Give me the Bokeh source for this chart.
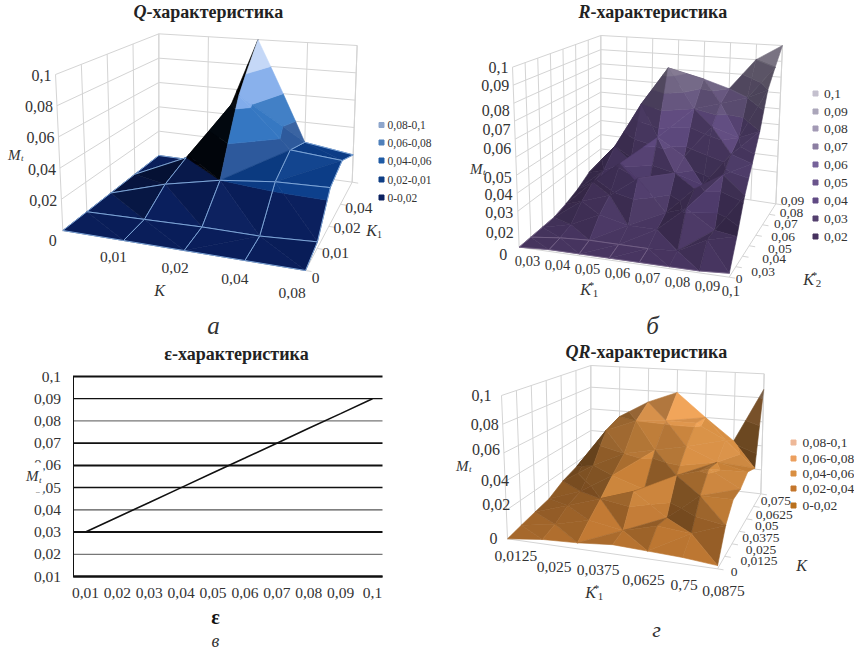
import numpy as np
from bokeh.plotting import figure
from bokeh.layouts import column, row
from bokeh.models import Range1d, FixedTicker
from bokeh.core.properties import value
from bokeh.embed import file_html
from bokeh.resources import INLINE

# ---------- data ----------
Q_K = ["0", "0,01", "0,02", "0,04", "0,08"]
Q_K1 = ["0", "0,01", "0,02", "0,04"]
Q_Z_TICKS = [0, 0.02, 0.04, 0.06, 0.08, 0.1]
Q_Z_LABELS = ["0", "0,02", "0,04", "0,06", "0,08", "0,1"]
Q_M = [  # rows: K1 index (front to back); columns: K index
    [0, 0, 0, 0, 0],
    [0, 0.001, 0.002, 0.002, 0.004],
    [0, 0.012, 0.020, 0.024, 0.025],
    [0, 0.018, 0.068, 0.033, 0.030],
    [0, 0.000, 0.100, 0.025, 0.020],
]
Q_LEGEND = ["0,08-0,1", "0,06-0,08", "0,04-0,06", "0,02-0,01", "0-0,02"]

R_K1 = ["0,03", "0,04", "0,05", "0,06", "0,07", "0,08", "0,09", "0,1"]
R_K2 = ["0", "0,03", "0,04", "0,05", "0,06", "0,07", "0,08", "0,09"]
R_Z_TICKS = [0, 0.02, 0.03, 0.04, 0.05, 0.06, 0.07, 0.08, 0.09, 0.1]
R_Z_LABELS = ["0", "0,02", "0,03", "0,04", "0,05", "0,06", "0,07", "0,08", "0,09", "0,1"]
R_M = [
    [0, .001, .001, .001, .001, .001, .001, .002],
    [0, .002, .003, .003, .003, .004, .012, .016],
    [0, .004, .012, .008, .008, .022, .012, .033],
    [0, .012, .018, .030, .012, .028, .038, .046],
    [.002, .018, .032, .015, .030, .025, .045, .060],
    [.005, .020, .028, .045, .035, .055, .050, .080],
    [.010, .030, .060, .085, .060, .065, .070, .090],
    [.012, .030, .050, .070, .075, .070, .090, .100],
]
R_LEGEND = ["0,1", "0,09", "0,08", "0,07", "0,06", "0,05", "0,04", "0,03", "0,02"]

E_X = [0.01, 0.02, 0.03, 0.04, 0.05, 0.06, 0.07, 0.08, 0.09, 0.1]
E_Y = [0.03, 0.0367, 0.0433, 0.05, 0.0567, 0.0633, 0.07, 0.0767, 0.0833, 0.09]
E_X_LABELS = ["0,01", "0,02", "0,03", "0,04", "0,05", "0,06", "0,07", "0,08", "0,09", "0,1"]
E_Y_TICKS = [0.01, 0.02, 0.03, 0.04, 0.05, 0.06, 0.07, 0.08, 0.09, 0.1]
E_Y_LABELS = ["0,01", "0,02", "0,03", "0,04", "0,05", "0,06", "0,07", "0,08", "0,09", "0,1"]

QR_K1 = ["0,0125", "0,025", "0,0375", "", "0,0625", "0,75", "0,0875"]
QR_K = ["0", "0,0125", "0,025", "0,0375", "0,05", "0,0625", "0,075"]
QR_Z_TICKS = [0, 0.02, 0.04, 0.06, 0.08, 0.1]
QR_Z_LABELS = ["0", "0,02", "0,04", "0,06", "0,08", "0,1"]
QR_M = [
    [0, .003, .004, .006, .005, .004, .002],
    [.002, .006, .012, .008, .014, .012, .020],
    [.004, .012, .020, .028, .012, .030, .030],
    [.006, .015, .030, .022, .035, .042, .030],
    [.012, .028, .040, .045, .050, .040, .035],
    [.016, .050, .060, .062, .062, .050, .030],
    [.020, .055, .070, .080, .060, .042, .087],
]
QR_LEGEND = ["0,08-0,1", "0,06-0,08", "0,04-0,06", "0,02-0,04", "0-0,02"]

SERIF = value("Liberation Serif")
INK = "#333333"
ROW1_H = 338
ROW2_H = 316


def rgb(h):
    return np.array([int(h[i:i + 2], 16) for i in (1, 3, 5)], float)


def shade(col, s):
    c = rgb(col)
    c = c * s if s <= 1 else c + (255 - c) * min((s - 1) * 0.4, 1)
    return "#%02x%02x%02x" % tuple(int(round(v)) for v in np.clip(c, 0, 255))


def make_fig(ox, oy, w, h):
    return figure(width=w, height=h, x_range=Range1d(ox, ox + w), y_range=Range1d(oy + h, oy),
                  x_axis_type=None, y_axis_type=None, toolbar_location=None,
                  output_backend="svg", min_border=0, outline_line_color=None)


def txt(p, x, y, s, size=15, style="normal", align="center", color=INK, level="glyph"):
    p.text(x=[x], y=[y], text=[s], text_font=SERIF, text_font_size=f"{size}px", text_font_style=style,
           text_align=align, text_baseline="middle", text_color=color, level=level)


def clip(poly, lo, hi):
    def half(pts, keep, level):
        out = []
        for a, b in zip(pts, pts[1:] + pts[:1]):
            ia, ib = keep(a[2]), keep(b[2])
            if ia:
                out.append(a)
            if ia != ib:
                t = (level - a[2]) / (b[2] - a[2])
                out.append(tuple(a[k] + t * (b[k] - a[k]) for k in range(3)))
        return out
    res = half(poly, lambda z: z >= lo, lo)
    return half(res, lambda z: z <= hi, hi) if res else res


class Box:
    """Trilinear map of (u, v, height) onto the page, from the eight box corners."""

    def __init__(self, c, ox, oy):
        self.c = {k: (ox + v[0] / 3, oy + v[1] / 3) for k, v in c.items()}

    def __call__(self, u, v, w):
        c = self.c
        def lerp(a, b, t):
            return (a[0] + (b[0] - a[0]) * t, a[1] + (b[1] - a[1]) * t)
        b0 = lerp(lerp(c["fl"], c["fr"], u), lerp(c["bl"], c["br"], u), v)
        b1 = lerp(lerp(c["tfl"], c["tfr"], u), lerp(c["tbl"], c["tbr"], u), v)
        return lerp(b0, b1, w / 0.1)


def walls(p, box, ni, nj, zticks):
    col = "#d4d4d4"
    xs, ys = [], []
    def seg(a, b):
        xs.append([a[0], b[0]])
        ys.append([a[1], b[1]])
    for z in zticks:
        seg(box(0, 0, z), box(0, 1, z))
        seg(box(0, 1, z), box(1, 1, z))
    for i in range(ni):
        u = i / (ni - 1)
        seg(box(u, 1, 0), box(u, 1, 0.1))
    for j in range(nj):
        v = j / (nj - 1)
        seg(box(0, v, 0), box(0, v, 0.1))
    seg(box(0, 0, 0), box(1, 0, 0))
    seg(box(1, 0, 0), box(1, 1, 0))
    seg(box(1, 1, 0), box(1, 1, 0.1))
    for j in range(nj):
        v = j / (nj - 1)
        a = box(1, v, 0)
        seg(a, (a[0] + 6, a[1] + 1))
    p.multi_line(xs, ys, line_color=col, line_width=1)


def surface(p, box, M, levels, colors, amb, diff, zscale=8.0, mesh=None, mesh_z=0.036, mesh_w=1):
    M = np.array(M, float)
    nj, ni = M.shape
    us = np.linspace(0, 1, ni)
    vs = np.linspace(0, 1, nj)
    L = np.array([0.7, -0.25, 0.65])
    L = L / np.linalg.norm(L)
    cells = [(i, j) for j in range(nj - 2, -1, -1) for i in sorted(range(ni - 1), key=lambda q: -abs(q - (ni - 2) / 2))]
    for i, j in cells:
        A = (us[i], vs[j], M[j, i])
        B = (us[i + 1], vs[j], M[j, i + 1])
        C = (us[i + 1], vs[j + 1], M[j + 1, i + 1])
        D = (us[i], vs[j + 1], M[j + 1, i])
        if abs(A[2] - C[2]) <= abs(B[2] - D[2]):
            tris = [[A, C, D], [A, B, C]]
        else:
            tris = [[A, B, D], [B, C, D]] if i < (ni - 1) / 2 else [[B, C, D], [A, B, D]]
        xs, ys, cols = [], [], []
        for tri in tris:
            t = np.array(tri) * [1, 1, zscale]
            n = np.cross(t[1] - t[0], t[2] - t[0])
            n = n / np.linalg.norm(n)
            if n[2] < 0:
                n = -n
            s = amb + diff * max(0.0, float(n @ L))
            for k, col in enumerate(colors):
                lo = levels[k] if k else -1
                hi = levels[k + 1] if k < len(colors) - 1 else 9
                poly = clip(list(tri), lo, hi)
                if len(poly) >= 3:
                    pts = [box(*q) for q in poly]
                    xs.append([q[0] for q in pts])
                    ys.append([q[1] for q in pts])
                    cols.append(shade(col, s))
        p.patches(xs, ys, fill_color=cols, line_color=cols, line_width=0.6)
        if mesh:
            corners = [A, B, C, D]
            ex, ey = [], []
            for a, b in zip(corners, corners[1:] + corners[:1]):
                if max(a[2], b[2]) < mesh_z:
                    pa_, pb_ = box(*a), box(*b)
                    ex.append([pa_[0], pb_[0]])
                    ey.append([pa_[1], pb_[1]])
            if ex:
                p.multi_line(ex, ey, line_color=mesh, line_width=mesh_w)


def labels3d(p, pts, names, offs, size):
    for q, s, o in zip(pts, names, offs):
        if s:
            txt(p, q[0] + o[0] / 3, q[1] + o[1] / 3, s, size)


def legend(p, x_sq, x_txt, ys, names, colors, size):
    p.scatter(x=[x_sq] * len(ys), y=ys, size=5, marker="square", fill_color=colors, line_color=colors)
    for y, s in zip(ys, names):
        txt(p, x_txt, y, s, size, align="left")


def mt(p, x, y, size=15):
    txt(p, x, y, "M", size, "italic", "right")
    txt(p, x + 0.5, y + 3, "t", size - 6, "italic", "left")


def title(p, cx, y, lead, rest, lead_style="bold italic", size=18):
    txt(p, cx, y, lead, size, lead_style, "right", "#222222")
    txt(p, cx, y, rest, size, "bold", "left", "#222222")


def kstar(p, x, y, sub, star=True, size=16):
    txt(p, x, y, "K", size, "italic")
    if star:
        txt(p, x + 6, y - 5, "*", 11)
    if sub:
        txt(p, x + 10, y + 4, sub, 11)


# ---------- panel a ----------
pa = make_fig(0, 0, 432, ROW1_H)
box_a = Box(dict(fl=(187, 690), fr=(915, 810), br=(1055, 545), bl=(475, 465),
                 tfl=(165, 222), tfr=(935, 290), tbr=(1070, 135), tbl=(475, 100)), 0, 0)
walls(pa, box_a, 5, 5, Q_Z_TICKS)
surface(pa, box_a, Q_M, Q_Z_TICKS, ["#0a1f5e", "#0c3f8c", "#1562b8", "#6d9fe8", "#b7cff5"], -0.1, 1.6,
        zscale=5.0, mesh="#7ea6d8")
title(pa, 146, 11, "Q", "-характеристика")
for z, s in zip(Q_Z_TICKS, Q_Z_LABELS):
    q = box_a(0, 0, z)
    ddy = 10 if z == 0 else 1
    ddx = -6 if z == 0 else -4
    txt(pa, q[0] + ddx, q[1] + ddy, s, 16, align="right")
labels3d(pa, [box_a(i / 4, 0, 0) for i in range(1, 5)], Q_K[1:], [(-30, 50), (-27, 52), (-30, 55), (-40, 68)], 15.5)
labels3d(pa, [box_a(1, j / 4, 0) for j in range(4)], Q_K1, [(30, 23), (55, 15), (55, 5), (55, 10)], 15.5)
txt(pa, 159, 290, "K", 16, "italic")
txt(pa, 371, 230, "K", 16, "italic")
txt(pa, 379, 234, "1", 10)
mt(pa, 20, 154)
txt(pa, 213, 325, "а", 25, "italic")
legend(pa, 381, 387, [124.5, 142, 160, 179, 197],
       Q_LEGEND, ["#8ea6cc", "#4f80bb", "#1f5ba5", "#0f3f85", "#0a2060"], 11.5)

# ---------- panel b ----------
pb = make_fig(432, 0, 422, ROW1_H)
box_b = Box(dict(fl=(275, 740), fr=(905, 830), br=(1045, 610), bl=(520, 530),
                 tfl=(255, 200), tfr=(925, 250), tbr=(1065, 135), tbl=(520, 105)), 427, 0)
walls(pb, box_b, 8, 8, R_Z_TICKS)
surface(pb, box_b, R_M, R_Z_TICKS,
        ["#4a3764", "#4e3b6b", "#554172", "#5c477c", "#604b80", "#65557e", "#706484", "#80768f", "#958ea0"], 0.68, 0.42,
        mesh="#7c6a8e", mesh_z=0.0035, mesh_w=0.7)
title(pb, 590, 11, "R", "-характеристика")
r_nudge = [0, 63, 57, 59, 60, 29, 26, 22, 0, 0]
for k, (z, s) in enumerate(zip(R_Z_TICKS, R_Z_LABELS)):
    q = box_b(0, 0, z)
    if z == 0:
        txt(pb, q[0] - 12, q[1] + 7, s, 16, align="right")
    else:
        txt(pb, q[0] - 4, q[1] + r_nudge[k] / 3, s, 16, align="right")
labels3d(pb, [box_b(i / 7, 0, 0) for i in range(8)], R_K1,
         [(25, 40)] * 7 + [(5, 42)], 14.5)
labels3d(pb, [box_b(1, j / 7, 0) for j in range(8)], R_K2,
         [(30, 5), (82, 16), (95, 8), (92, 9), (82, 4), (70, -3), (67, -5), (50, -10)], 13.5)
kstar(pb, 585, 289, "1")
kstar(pb, 808, 279, "2")
mt(pb, 482, 168)
txt(pb, 652, 325, "б", 25, "italic")
legend(pb, 815, 823.5, [93, 111, 128, 146, 164, 182, 200, 218, 236],
       R_LEGEND, ["#c4c0ce", "#aba6ba", "#a39ab5", "#8c7fa2", "#77639a", "#6a558c", "#604a84", "#54416f", "#46325f"], 13.5)

# ---------- panel c ----------
X0, X1, Y0, Y1 = 85.0, 372.0, 576.0, 376.0      # page position of x=0.01..0.1 and y=0.01..0.1
FRAME_L, FRAME_R = 72.5, 382.0


def dx(x):
    return 0.01 + (x - X0) / (X1 - X0) * 0.09


def dy(y):
    return 0.01 + (y - Y0) / (Y1 - Y0) * 0.09


pc = figure(width=427, height=ROW2_H, x_range=Range1d(dx(0), dx(427)), y_range=Range1d(dy(ROW1_H + ROW2_H), dy(ROW1_H)),
            toolbar_location=None, output_backend="svg", outline_line_color=None, min_border=0)
pc.xgrid.visible = False
pc.ygrid.visible = False
pc.segment(x0=[dx(FRAME_L)] * 10, x1=[dx(FRAME_R)] * 10, y0=E_Y_TICKS, y1=E_Y_TICKS,
           line_color=["#111111", "#777777", "#111111", "#555555", "#111111", "#111111", "#111111", "#777777", "#111111", "#111111"],
           line_width=[2, 1.3, 2, 1.3, 1.5, 2, 1.8, 1.3, 1.3, 2])
pc.line(E_X, E_Y, line_color="#111111", line_width=1.6)
pc.xaxis.ticker = FixedTicker(ticks=E_X)
pc.yaxis.ticker = FixedTicker(ticks=E_Y_TICKS)
pc.xaxis.major_label_overrides = dict(zip(E_X, E_X_LABELS))
pc.yaxis.major_label_overrides = dict(zip(E_Y_TICKS, E_Y_LABELS))
pc.xaxis.fixed_location = dy(Y0)
pc.yaxis.fixed_location = dx(FRAME_L)
pc.xaxis.bounds = (dx(FRAME_L), dx(FRAME_R))
pc.yaxis.bounds = (dy(Y0), dy(Y1))
for ax in (pc.xaxis, pc.yaxis):
    ax.major_tick_line_color = None
    ax.minor_tick_line_color = None
    ax.major_label_text_font = "Liberation Serif"
    ax.major_label_text_font_size = "15.5px"
    ax.major_label_text_color = INK
    ax.major_label_standoff = 5
pc.xaxis.axis_line_color = "#111111"
pc.xaxis.axis_line_width = 2
pc.yaxis.axis_line_color = "#111111"
pc.yaxis.major_label_standoff = 6
pc.quad(left=[dx(25)], right=[dx(43)], top=[dy(462)], bottom=[dy(492)], fill_color="white", line_color=None, level="overlay")
txt(pc, dx(236), dy(353), "ε-характеристика", 18, "bold", color="#222222")
txt(pc, dx(215), dy(616), "ε", 20, "bold", color="#111111")
txt(pc, dx(215), dy(640), "в", 18, "italic")
txt(pc, dx(38), dy(475), "M", 15, "italic", "right", level="overlay")
txt(pc, dx(38.5), dy(479), "t", 9, "italic", "left", level="overlay")

# ---------- panel d ----------
pd = make_fig(427, ROW1_H, 427, ROW2_H)
box_d = Box(dict(fl=(240, 625), fr=(870, 715), br=(1000, 490), bl=(490, 430),
                 tfl=(222, 195), tfr=(885, 230), tbr=(1010, 130), tbl=(490, 105)), 427, 330)
walls(pd, box_d, 7, 7, QR_Z_TICKS)
surface(pd, box_d, QR_M, QR_Z_TICKS, ["#c27a33", "#cb8339", "#d98f42", "#f0a254", "#f6c090"], 0.5, 0.62)
title(pd, 590, 351, "QR", "-характеристика")
for z, s, ddy, ddx in zip(QR_Z_TICKS, QR_Z_LABELS, [0, -6, -1, -3, 0, 0], [-10, 4, 4, -4, -4, -10]):
    q = box_d(0, 0, z)
    txt(pd, q[0] + ddx, q[1] + ddy, s, 16, align="right")
labels3d(pd, [box_d(i / 6, 0, 0) for i in range(7)], QR_K1,
         [(25, 50), (35, 70), (62, 63), (0, 0), (-12, 63), (5, 63), (18, 67)], 15.5)
labels3d(pd, [box_d(1, j / 6, 0) for j in range(7)], QR_K,
         [(50, 10), (103, 13), (87, 17), (65, 20), (61, 20), (62, 25), (45, 22)], 13.5)
kstar(pd, 590, 592, "1")
txt(pd, 801, 565, "K", 16, "italic")
mt(pd, 468, 465)
txt(pd, 656, 629, "г", 22, "italic")
legend(pd, 793, 802, [442, 458, 473, 488, 505],
       QR_LEGEND, ["#eeb898", "#ec9f5f", "#d98f42", "#c4762c", "#b8701e"], 13.5)

page = column(row(pa, pb, spacing=0), row(column(pc), column(pd), spacing=0), spacing=0)
open("out.html", "w").write(file_html(page, INLINE))
